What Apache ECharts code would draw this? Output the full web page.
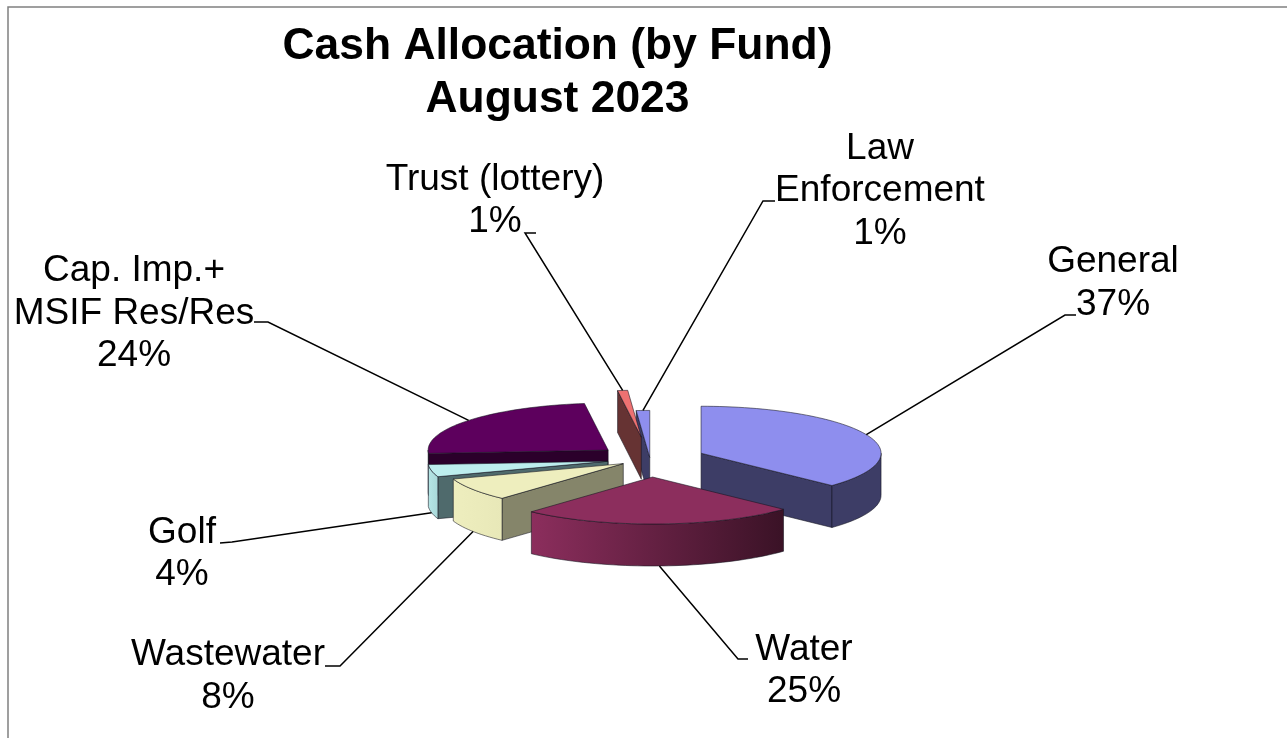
<!DOCTYPE html>
<html>
<head>
<meta charset="utf-8">
<style>html,body{margin:0;padding:0;background:#fff}#c{width:1287px;height:738px}</style>
<script src="https://cdn.jsdelivr.net/npm/echarts@6/dist/echarts.min.js"></script>
</head>
<body>
<div id="c"></div>
<script>
// Data
const categories = ['General', 'Water', 'Wastewater', 'Golf', 'Cap. Imp.+\nMSIF Res/Res', 'Trust (lottery)', 'Law\nEnforcement'];
const values = [37, 24.7, 7.9, 4.2, 24, 0.9, 1.2];
const titleLines = ['Cash Allocation (by Fund)', 'August 2023'];

// Styles
const topColors = ['#8e8eee', '#8c2e5d', '#eeeebe', '#bdeeee', '#5d005d', '#ee7171', '#8e8eee'];
const faceColors = ['#3d3d66', '#3d1428', '#85856a', '#4f6a6c', '#2b002b', '#663333', '#3d3d66'];
const arcLeft = ['#3d3d66', '#8c2e5d', '#eeeebe', '#b6e6e6', '#2b002b', '#663333', '#3d3d66'];
const arcRight = ['#3d3d66', '#3a1226', '#e8e8b8', '#a8d8d8', '#2b002b', '#663333', '#3d3d66'];
// Layout
const paintOrder = [4, 6, 5, 3, 2, 0, 1];
const explode = [55.6, 69, 32, 43, 54, 84, 6];
const labelAt = [[1113, 283.5], [804, 671], [228, 676.5], [182, 554], [134, 313.5], [495, 201], [880, 191]];
const leaderFrom = [[[1076, 315], [1065, 315]], [[748, 659], [738, 659]], [[325, 666], [340, 666]], [[220, 543], [232, 542]], [[254, 322], [268, 322]], [[536, 233], [525, 233]], [[775, 201], [763, 201]]];
const CX = 650, CY = 459, RX = 180, RY = 47, H = 42;

const total = values.reduce((a, b) => a + b, 0);
const starts = [];
values.reduce((acc, v, i) => { starts[i] = acc; return acc + v; }, 0);
const rad = d => d * Math.PI / 180;
const sliceAngles = i => [starts[i] / total * 360, (starts[i] + values[i]) / total * 360];

function apexOf(i) {
  const [a, b] = sliceAngles(i), m = rad((a + b) / 2);
  return [CX + explode[i] * Math.sin(m), CY - explode[i] * (RY / RX) * Math.cos(m)];
}
function rim(apex, deg, dz) {
  return [apex[0] + RX * Math.sin(rad(deg)), apex[1] - RY * Math.cos(rad(deg)) + (dz || 0)];
}
function arcPts(apex, a, b, dz) {
  const pts = [], n = Math.max(2, Math.ceil((b - a) / 2));
  for (let k = 0; k <= n; k++) pts.push(rim(apex, a + (b - a) * k / n, dz));
  return pts;
}
const edge = { stroke: 'rgba(20,20,30,0.7)', lineWidth: 0.8 };

function renderSlice(params, api) {
  const i = api.value(0), rank = paintOrder.indexOf(i);
  const [a, b] = sliceAngles(i), apex = apexOf(i);
  const kids = [];
  const base = 10 + rank * 10;
  const radial = (deg, z2) => {
    const p = rim(apex, deg);
    kids.push({ type: 'polygon', z2, shape: { points: [apex, p, [p[0], p[1] + H], [apex[0], apex[1] + H]] },
      style: Object.assign({ fill: faceColors[i] }, edge) });
  };
  if (Math.sin(rad(a)) < -1e-6) radial(a, base);
  if (Math.sin(rad(b)) > 1e-6) radial(b, base);
  const s = Math.max(a, 90), e = Math.min(b, 270);
  if (e > s) {
    const upper = arcPts(apex, s, e, 0), lower = arcPts(apex, s, e, H).reverse();
    kids.push({ type: 'polygon', z2: base + 1, shape: { points: upper.concat(lower) },
      style: Object.assign({
        fill: new echarts.graphic.LinearGradient(0, 0, 1, 0, [
          { offset: 0, color: arcLeft[i] }, { offset: 1, color: arcRight[i] }])
      }, edge) });
  }
  kids.push({ type: 'polygon', z2: base + 2, shape: { points: [apex].concat(arcPts(apex, a, b, 0)) },
    style: Object.assign({ fill: topColors[i] }, edge) });

  const mid = rim(apex, (a + b) / 2, (a + b) / 2 > 90 && (a + b) / 2 < 270 ? H : 0);
  kids.push({ type: 'polyline', z2: 200, shape: { points: leaderFrom[i].concat([mid]) },
    style: { stroke: '#000', lineWidth: 1.5, fill: null } });
  kids.push({ type: 'text', z2: 210, x: labelAt[i][0], y: labelAt[i][1],
    style: { text: categories[i] + '\n' + Math.round(values[i]) + '%', align: 'center', verticalAlign: 'middle',
      fontFamily: '"Liberation Sans", Arial, sans-serif', fontSize: 37, lineHeight: 42.5, fill: '#000' } });
  return { type: 'group', children: kids };
}

const chart = echarts.init(document.getElementById('c'), null, { renderer: 'canvas' });
chart.setOption({
  animation: false,
  backgroundColor: '#fff',
  title: {
    text: titleLines.join('\n'), left: 552.5, top: 16, textAlign: 'center',
    textStyle: { fontFamily: '"Liberation Sans", Arial, sans-serif', fontWeight: 'bold', fontSize: 44.4, lineHeight: 52.5, color: '#000' }
  },
  graphic: [{ type: 'polyline', silent: true, shape: { points: [[8, 738], [8, 7], [1287, 7]] },
    style: { stroke: '#808080', lineWidth: 1.5, fill: null } }],
  series: [{
    type: 'custom', coordinateSystem: 'none', silent: true,
    renderItem: renderSlice,
    data: values.map((v, i) => [i, v])
  }]
});
</script>
</body>
</html>
